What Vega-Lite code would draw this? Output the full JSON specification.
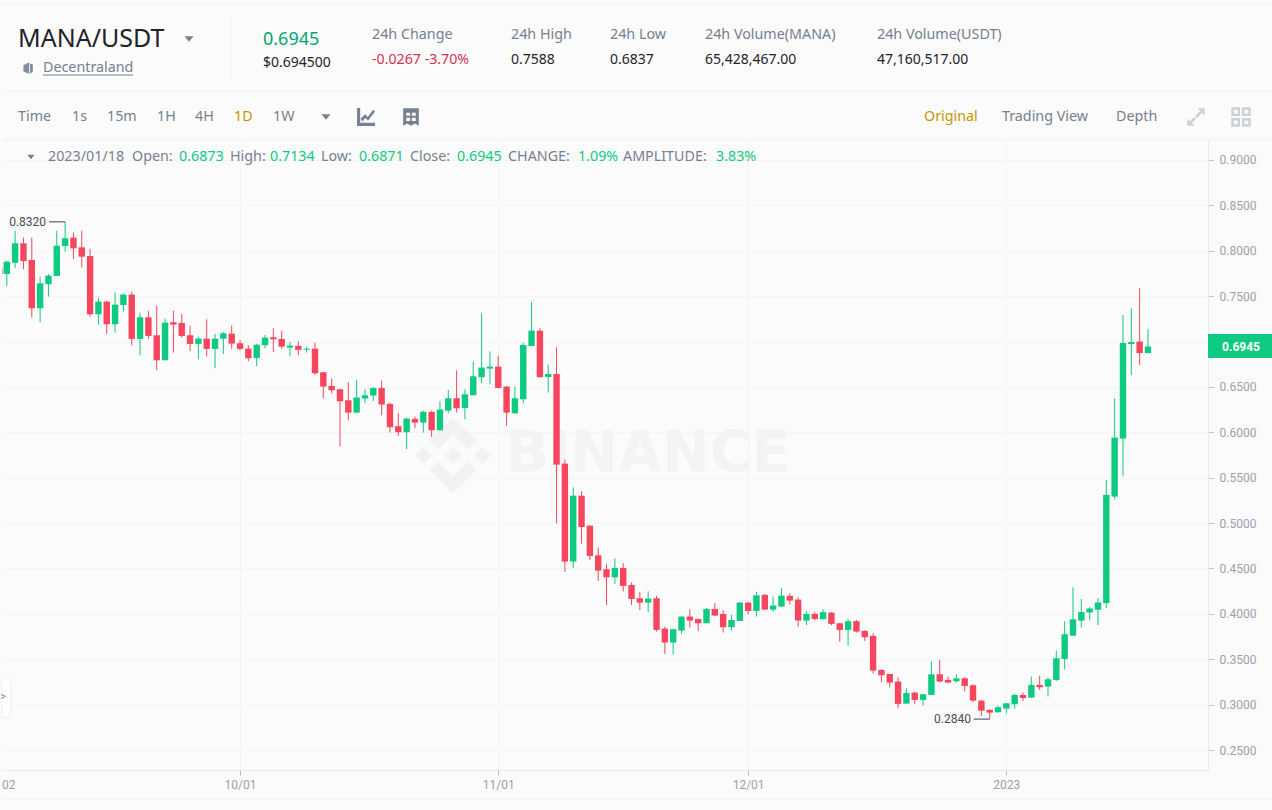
{"$schema":"https://vega.github.io/schema/vega-lite/v6.json","background":"#fbfbfb","padding":0,"autosize":{"type":"pad"},"spacing":0,"config":{"view":{"stroke":null},"font":"Noto Sans","concat":{"spacing":0}},
"datasets":{
"heads":[
{"text":"MANA/USDT","slot":1,"row":3,"style":"pair"},
{"text":"Decentraland","slot":3,"row":7,"style":"label"},
{"text":"0.6945","slot":12,"row":4,"style":"price"},
{"text":"$0.694500","slot":12,"row":6,"style":"value"},
{"text":"24h Change","slot":16,"row":2,"style":"label"},
{"text":"-0.0267 -3.70%","slot":16,"row":5,"style":"drop"},
{"text":"24h High","slot":18,"row":2,"style":"label"},
{"text":"0.7588","slot":18,"row":5,"style":"value"},
{"text":"24h Low","slot":19,"row":2,"style":"label"},
{"text":"0.6837","slot":19,"row":5,"style":"value"},
{"text":"24h Volume(MANA)","slot":20,"row":2,"style":"label"},
{"text":"65,428,467.00","slot":20,"row":5,"style":"value"},
{"text":"24h Volume(USDT)","slot":21,"row":2,"style":"label"},
{"text":"47,160,517.00","slot":21,"row":5,"style":"value"},
{"text":"Time","slot":1,"row":11,"style":"label"},
{"text":"1s","slot":4,"row":11,"style":"label"},
{"text":"15m","slot":5,"row":11,"style":"label"},
{"text":"1H","slot":7,"row":11,"style":"label"},
{"text":"4H","slot":9,"row":11,"style":"label"},
{"text":"1D","slot":11,"row":11,"style":"active"},
{"text":"1W","slot":13,"row":11,"style":"label"},
{"text":"Original","slot":22,"row":11,"style":"active"},
{"text":"Trading View","slot":23,"row":11,"style":"label"},
{"text":"Depth","slot":24,"row":11,"style":"label"}],
"candles":[
{"date":"2022-09-03","open":0.7744,"high":0.7891,"low":0.7612,"close":0.788},
{"date":"2022-09-04","open":0.7869,"high":0.8221,"low":0.781,"close":0.8082},
{"date":"2022-09-05","open":0.8082,"high":0.8144,"low":0.7796,"close":0.7887},
{"date":"2022-09-06","open":0.7898,"high":0.8144,"low":0.7264,"close":0.7366},
{"date":"2022-09-07","open":0.7366,"high":0.7715,"low":0.7212,"close":0.7642},
{"date":"2022-09-08","open":0.7631,"high":0.7744,"low":0.7495,"close":0.7726},
{"date":"2022-09-09","open":0.7722,"high":0.8221,"low":0.7722,"close":0.8056},
{"date":"2022-09-10","open":0.8052,"high":0.832,"low":0.799,"close":0.8137},
{"date":"2022-09-11","open":0.8144,"high":0.8203,"low":0.7909,"close":0.8027},
{"date":"2022-09-12","open":0.8038,"high":0.8221,"low":0.7818,"close":0.7935},
{"date":"2022-09-13","open":0.7942,"high":0.802,"low":0.7275,"close":0.73},
{"date":"2022-09-14","open":0.73,"high":0.7484,"low":0.7186,"close":0.744},
{"date":"2022-09-15","open":0.744,"high":0.7447,"low":0.7084,"close":0.719},
{"date":"2022-09-16","open":0.719,"high":0.7542,"low":0.7098,"close":0.7407},
{"date":"2022-09-17","open":0.7403,"high":0.7531,"low":0.733,"close":0.7517},
{"date":"2022-09-18","open":0.7517,"high":0.755,"low":0.6959,"close":0.7029},
{"date":"2022-09-19","open":0.7029,"high":0.7319,"low":0.6849,"close":0.7267},
{"date":"2022-09-20","open":0.7267,"high":0.7337,"low":0.7032,"close":0.7062},
{"date":"2022-09-21","open":0.7069,"high":0.7396,"low":0.6684,"close":0.6794},
{"date":"2022-09-22","open":0.6794,"high":0.7252,"low":0.6794,"close":0.7208},
{"date":"2022-09-23","open":0.7212,"high":0.7341,"low":0.6878,"close":0.7186},
{"date":"2022-09-24","open":0.7205,"high":0.7304,"low":0.7043,"close":0.7062},
{"date":"2022-09-25","open":0.7069,"high":0.7175,"low":0.6896,"close":0.6974},
{"date":"2022-09-26","open":0.6974,"high":0.7054,"low":0.6808,"close":0.7032},
{"date":"2022-09-27","open":0.7032,"high":0.7245,"low":0.6834,"close":0.6919},
{"date":"2022-09-28","open":0.6919,"high":0.7084,"low":0.6706,"close":0.7032},
{"date":"2022-09-29","open":0.7032,"high":0.7106,"low":0.6863,"close":0.7091},
{"date":"2022-09-30","open":0.7087,"high":0.7179,"low":0.6919,"close":0.6977},
{"date":"2022-10-01","open":0.6981,"high":0.7018,"low":0.69,"close":0.6919},
{"date":"2022-10-02","open":0.6922,"high":0.6959,"low":0.6783,"close":0.6816},
{"date":"2022-10-03","open":0.6819,"high":0.6977,"low":0.6731,"close":0.6966},
{"date":"2022-10-04","open":0.6959,"high":0.7073,"low":0.6926,"close":0.7043},
{"date":"2022-10-05","open":0.7047,"high":0.7146,"low":0.6886,"close":0.7025},
{"date":"2022-10-06","open":0.7029,"high":0.712,"low":0.6919,"close":0.6944},
{"date":"2022-10-07","open":0.6933,"high":0.6996,"low":0.6838,"close":0.6955},
{"date":"2022-10-08","open":0.6952,"high":0.7003,"low":0.6849,"close":0.6908},
{"date":"2022-10-09","open":0.6911,"high":0.6944,"low":0.6878,"close":0.6922},
{"date":"2022-10-10","open":0.6922,"high":0.6988,"low":0.6632,"close":0.6651},
{"date":"2022-10-11","open":0.6662,"high":0.6662,"low":0.6375,"close":0.6504},
{"date":"2022-10-12","open":0.6511,"high":0.6595,"low":0.643,"close":0.6463},
{"date":"2022-10-13","open":0.6474,"high":0.6482,"low":0.5843,"close":0.6342},
{"date":"2022-10-14","open":0.6353,"high":0.6551,"low":0.6133,"close":0.6217},
{"date":"2022-10-15","open":0.6217,"high":0.6577,"low":0.621,"close":0.6383},
{"date":"2022-10-16","open":0.6372,"high":0.6474,"low":0.632,"close":0.6408},
{"date":"2022-10-17","open":0.6405,"high":0.6496,"low":0.6346,"close":0.6489},
{"date":"2022-10-18","open":0.6489,"high":0.657,"low":0.6188,"close":0.6306},
{"date":"2022-10-19","open":0.6313,"high":0.6328,"low":0.5997,"close":0.6056},
{"date":"2022-10-20","open":0.6067,"high":0.621,"low":0.5961,"close":0.6001},
{"date":"2022-10-21","open":0.6001,"high":0.6162,"low":0.5814,"close":0.6151},
{"date":"2022-10-22","open":0.6148,"high":0.6173,"low":0.6045,"close":0.6107},
{"date":"2022-10-23","open":0.6107,"high":0.6239,"low":0.5997,"close":0.6225},
{"date":"2022-10-24","open":0.6225,"high":0.6239,"low":0.595,"close":0.6023},
{"date":"2022-10-25","open":0.6023,"high":0.6342,"low":0.6016,"close":0.625},
{"date":"2022-10-26","open":0.6239,"high":0.6467,"low":0.621,"close":0.6375},
{"date":"2022-10-27","open":0.6375,"high":0.6683,"low":0.6217,"close":0.6265},
{"date":"2022-10-28","open":0.6269,"high":0.6474,"low":0.6144,"close":0.6419},
{"date":"2022-10-29","open":0.6408,"high":0.6775,"low":0.6408,"close":0.6617},
{"date":"2022-10-30","open":0.6607,"high":0.7311,"low":0.654,"close":0.6713},
{"date":"2022-10-31","open":0.6702,"high":0.6893,"low":0.6529,"close":0.6724},
{"date":"2022-11-01","open":0.6724,"high":0.6845,"low":0.6485,"close":0.6489},
{"date":"2022-11-02","open":0.6504,"high":0.6511,"low":0.6071,"close":0.6217},
{"date":"2022-11-03","open":0.621,"high":0.6504,"low":0.6203,"close":0.6375},
{"date":"2022-11-04","open":0.6364,"high":0.6988,"low":0.632,"close":0.6962},
{"date":"2022-11-05","open":0.6951,"high":0.7436,"low":0.6951,"close":0.712},
{"date":"2022-11-06","open":0.712,"high":0.7146,"low":0.6603,"close":0.6607},
{"date":"2022-11-07","open":0.661,"high":0.6746,"low":0.6438,"close":0.6643},
{"date":"2022-11-08","open":0.6643,"high":0.6937,"low":0.4998,"close":0.5644},
{"date":"2022-11-09","open":0.5655,"high":0.5702,"low":0.4462,"close":0.4576},
{"date":"2022-11-10","open":0.4576,"high":0.5394,"low":0.4506,"close":0.5302},
{"date":"2022-11-11","open":0.5302,"high":0.535,"low":0.4774,"close":0.4957},
{"date":"2022-11-12","open":0.4972,"high":0.4972,"low":0.4594,"close":0.4638},
{"date":"2022-11-13","open":0.4645,"high":0.4733,"low":0.4363,"close":0.4476},
{"date":"2022-11-14","open":0.4491,"high":0.455,"low":0.4098,"close":0.4403},
{"date":"2022-11-15","open":0.4403,"high":0.4612,"low":0.433,"close":0.4506},
{"date":"2022-11-16","open":0.4506,"high":0.4557,"low":0.4245,"close":0.4308},
{"date":"2022-11-17","open":0.4319,"high":0.4344,"low":0.4098,"close":0.4164},
{"date":"2022-11-18","open":0.4172,"high":0.4242,"low":0.4043,"close":0.4124},
{"date":"2022-11-19","open":0.4124,"high":0.4249,"low":0.4018,"close":0.4168},
{"date":"2022-11-20","open":0.4172,"high":0.4198,"low":0.3805,"close":0.3823},
{"date":"2022-11-21","open":0.3838,"high":0.386,"low":0.3559,"close":0.3684},
{"date":"2022-11-22","open":0.3684,"high":0.3834,"low":0.3552,"close":0.3831},
{"date":"2022-11-23","open":0.3816,"high":0.3977,"low":0.3779,"close":0.397},
{"date":"2022-11-24","open":0.397,"high":0.4051,"low":0.3849,"close":0.3926},
{"date":"2022-11-25","open":0.3944,"high":0.3944,"low":0.3812,"close":0.3897},
{"date":"2022-11-26","open":0.3897,"high":0.4065,"low":0.3897,"close":0.4054},
{"date":"2022-11-27","open":0.4054,"high":0.4117,"low":0.3977,"close":0.3981},
{"date":"2022-11-28","open":0.3999,"high":0.404,"low":0.3794,"close":0.3853},
{"date":"2022-11-29","open":0.3853,"high":0.3988,"low":0.3816,"close":0.3933},
{"date":"2022-11-30","open":0.3922,"high":0.4128,"low":0.3922,"close":0.4124},
{"date":"2022-12-01","open":0.4124,"high":0.4131,"low":0.3992,"close":0.4032},
{"date":"2022-12-02","open":0.4032,"high":0.4242,"low":0.397,"close":0.4205},
{"date":"2022-12-03","open":0.4209,"high":0.422,"low":0.4043,"close":0.4047},
{"date":"2022-12-04","open":0.4047,"high":0.419,"low":0.4025,"close":0.4091},
{"date":"2022-12-05","open":0.408,"high":0.4282,"low":0.408,"close":0.4201},
{"date":"2022-12-06","open":0.4198,"high":0.4227,"low":0.4102,"close":0.4146},
{"date":"2022-12-07","open":0.4157,"high":0.4183,"low":0.386,"close":0.3926},
{"date":"2022-12-08","open":0.3926,"high":0.4029,"low":0.3878,"close":0.3999},
{"date":"2022-12-09","open":0.3999,"high":0.4018,"low":0.3926,"close":0.3944},
{"date":"2022-12-10","open":0.3941,"high":0.4051,"low":0.3941,"close":0.4018},
{"date":"2022-12-11","open":0.4014,"high":0.4018,"low":0.3875,"close":0.3889},
{"date":"2022-12-12","open":0.3897,"high":0.3897,"low":0.3695,"close":0.3823},
{"date":"2022-12-13","open":0.3823,"high":0.3941,"low":0.3647,"close":0.3919},
{"date":"2022-12-14","open":0.3919,"high":0.3933,"low":0.3794,"close":0.3805},
{"date":"2022-12-15","open":0.3812,"high":0.3819,"low":0.3702,"close":0.3743},
{"date":"2022-12-16","open":0.3757,"high":0.3786,"low":0.3342,"close":0.3375},
{"date":"2022-12-17","open":0.3382,"high":0.3393,"low":0.3246,"close":0.3323},
{"date":"2022-12-18","open":0.3338,"high":0.3338,"low":0.3191,"close":0.3243},
{"date":"2022-12-19","open":0.3254,"high":0.3301,"low":0.296,"close":0.3008},
{"date":"2022-12-20","open":0.3011,"high":0.318,"low":0.3011,"close":0.3129},
{"date":"2022-12-21","open":0.3133,"high":0.3144,"low":0.3008,"close":0.3052},
{"date":"2022-12-22","open":0.3052,"high":0.3118,"low":0.2989,"close":0.3114},
{"date":"2022-12-23","open":0.3107,"high":0.3481,"low":0.3107,"close":0.3334},
{"date":"2022-12-24","open":0.3334,"high":0.3492,"low":0.3246,"close":0.3254},
{"date":"2022-12-25","open":0.3272,"high":0.3309,"low":0.3235,"close":0.3243},
{"date":"2022-12-26","open":0.3257,"high":0.3334,"low":0.3243,"close":0.329},
{"date":"2022-12-27","open":0.329,"high":0.3301,"low":0.3144,"close":0.3206},
{"date":"2022-12-28","open":0.3213,"high":0.3224,"low":0.3026,"close":0.3044},
{"date":"2022-12-29","open":0.3044,"high":0.3052,"low":0.2876,"close":0.2934},
{"date":"2022-12-30","open":0.2942,"high":0.2949,"low":0.284,"close":0.2912},
{"date":"2022-12-31","open":0.2916,"high":0.2989,"low":0.2912,"close":0.2971},
{"date":"2023-01-01","open":0.2956,"high":0.3019,"low":0.2905,"close":0.3015},
{"date":"2023-01-02","open":0.3004,"high":0.3118,"low":0.2956,"close":0.3107},
{"date":"2023-01-03","open":0.3107,"high":0.3133,"low":0.3041,"close":0.3074},
{"date":"2023-01-04","open":0.3077,"high":0.3309,"low":0.3077,"close":0.3217},
{"date":"2023-01-05","open":0.3217,"high":0.332,"low":0.3162,"close":0.3191},
{"date":"2023-01-06","open":0.3199,"high":0.3301,"low":0.3089,"close":0.3279},
{"date":"2023-01-07","open":0.3272,"high":0.3595,"low":0.3261,"close":0.3511},
{"date":"2023-01-08","open":0.3503,"high":0.3918,"low":0.3389,"close":0.3775},
{"date":"2023-01-09","open":0.376,"high":0.4292,"low":0.3756,"close":0.394},
{"date":"2023-01-10","open":0.3925,"high":0.4162,"low":0.385,"close":0.4021},
{"date":"2023-01-11","open":0.4015,"high":0.4074,"low":0.393,"close":0.4059},
{"date":"2023-01-12","open":0.4045,"high":0.4173,"low":0.3877,"close":0.4125},
{"date":"2023-01-13","open":0.4118,"high":0.5476,"low":0.4063,"close":0.5311},
{"date":"2023-01-14","open":0.5292,"high":0.6375,"low":0.5263,"close":0.5942},
{"date":"2023-01-15","open":0.5931,"high":0.7293,"low":0.5513,"close":0.6984},
{"date":"2023-01-16","open":0.6973,"high":0.7366,"low":0.6632,"close":0.6995},
{"date":"2023-01-17","open":0.7,"high":0.7588,"low":0.6738,"close":0.6873},
{"date":"2023-01-18","open":0.6873,"high":0.7134,"low":0.6871,"close":0.6945}
]},
"vconcat":[
{"width":1271,"height":140,
"encoding":{
"x":{"field":"slot","type":"quantitative","axis":null,"scale":{"zero":false,"nice":false,"domain":[0,1,2,3,4,5,6,7,8,9,10,11,12,13,14,15,16,17,18,19,20,21,22,23,24,25,26,27],"range":[0,16,26,41,70,105,131,155,187,193,229,232,261,271,324,364,370,409,509,608,703,875,922,1000,1114,1194,1239,1271]}},
"y":{"field":"row","type":"quantitative","axis":null,"scale":{"zero":false,"nice":false,"domain":[0,1,2,3,4,5,6,7,8,9,10,11,12],"range":[4,18,35,39,40,60,62.5,68,75,78,91,117,139.5]}}
},
"layer":[
{"data":{"values":[{"slot":0,"slot2":27,"row":0},{"slot":0,"slot2":27,"row":10},{"slot":0,"slot2":27,"row":12}]},
"mark":{"type":"rule","color":"#eef0f2","strokeWidth":1},"encoding":{"x2":{"field":"slot2"}}},
{"data":{"values":[{"slot":3,"slot2":6,"row":8}]},"mark":{"type":"rule","color":"#76808f","strokeWidth":1},"encoding":{"x2":{"field":"slot2"}}},
{"data":{"values":[{"slot":10,"row":1,"row2":9}]},"mark":{"type":"rule","color":"#eef0f2","strokeWidth":1},"encoding":{"y2":{"field":"row2"}}},
{"data":{"values":[{"slot":8,"row":3},{"slot":14,"row":11}]},"mark":{"type":"point","filled":true,"opacity":1,"strokeWidth":0,"color":"#76808f","size":100,"shape":"M-.9 -.55 H.9 L0 .55Z"}},
{"data":{"values":[{"slot":2,"row":7}]},"mark":{"type":"point","filled":true,"opacity":1,"strokeWidth":0,"color":"#848e9c","size":130,"shape":"M-.8 -.5 L.2 -1 V1 L-.8 .6Z M.35 -.8 L.85 -.6 V.7 L.35 1Z"}},
{"data":{"values":[{"slot":15,"row":11}]},"mark":{"type":"point","filled":true,"opacity":1,"strokeWidth":0,"color":"#76808f","size":320,"shape":"M-1 -1 H-.65 V.65 H1 V1 H-1Z M-.6 .2 L-.1 -.3 L.2 0 L.8 -.8 L1 -.6 L.25 .4 L-.1 .1 L-.4 .5Z"}},
{"data":{"values":[{"slot":17,"row":11}]},"mark":{"type":"point","filled":true,"opacity":1,"strokeWidth":0,"color":"#76808f","size":300,"shape":"M-.9 -1 H.9 V1 L.45 .75 L0 1 L-.45 .75 L-.9 1Z M-.55 -.5 V-.15 H-.1 V-.5Z M.1 -.5 V-.15 H.55 V-.5Z M-.55 .1 V.45 H-.1 V.1Z M.1 .1 V.45 H.55 V.1Z"}},
{"data":{"values":[{"slot":25,"row":11}]},"mark":{"type":"point","filled":true,"opacity":1,"strokeWidth":0,"color":"#cdd1d6","size":340,"shape":"M.15 -.95 H.95 V-.15 L.65 -.45 L.1 .1 L-.1 -.1 L.45 -.65Z M-.95 .95 V.15 L-.65 .45 L-.2 0 L0 .2 L-.45 .65 L-.15 .95Z"}},
{"data":{"values":[{"slot":26,"row":11}]},"mark":{"type":"point","filled":true,"opacity":1,"strokeWidth":0,"color":"#cdd1d6","size":380,"shape":"M-1 -1 H-.1 V-.1 H-1Z M-.75 -.75 V-.35 H-.35 V-.75Z M.1 -1 H1 V-.1 H.1Z M.35 -.75 V-.35 H.75 V-.75Z M-1 .1 H-.1 V1 H-1Z M-.75 .35 V.75 H-.35 V.35Z M.1 .1 H1 V1 H.1Z M.35 .35 V.75 H.75 V.35Z"}},
{"data":{"name":"heads"},"transform":[{"filter":"datum.style=='pair'"}],"mark":{"type":"text","align":"left","baseline":"middle","fontSize":25,"color":"#1e2329"},"encoding":{"text":{"field":"text"}}},
{"data":{"name":"heads"},"transform":[{"filter":"datum.style=='price'"}],"mark":{"type":"text","align":"left","baseline":"middle","fontSize":18,"color":"#02a66f"},"encoding":{"text":{"field":"text"}}},
{"data":{"name":"heads"},"transform":[{"filter":"datum.style=='value'"}],"mark":{"type":"text","align":"left","baseline":"middle","fontSize":14,"color":"#1e2329"},"encoding":{"text":{"field":"text"}}},
{"data":{"name":"heads"},"transform":[{"filter":"datum.style=='drop'"}],"mark":{"type":"text","align":"left","baseline":"middle","fontSize":14.2,"color":"#d9304e"},"encoding":{"text":{"field":"text"}}},
{"data":{"name":"heads"},"transform":[{"filter":"datum.style=='label'"}],"mark":{"type":"text","align":"left","baseline":"middle","fontSize":14.3,"color":"#76808f"},"encoding":{"text":{"field":"text"}}},
{"data":{"name":"heads"},"transform":[{"filter":"datum.style=='active'"}],"mark":{"type":"text","align":"left","baseline":"middle","fontSize":14.3,"color":"#c99400"},"encoding":{"text":{"field":"text"}}}
]},
{"width":1206,"height":630,
"resolve":{"scale":{"x":"independent","y":"independent"}},
"layer":[
{"encoding":{"x":{"field":"date","type":"temporal","title":null,"scale":{"type":"utc","nice":false,"padding":0,"domain":[1662113376000,1674622800000]},
"axis":{"title":null,"values":[1664582400000,1667260800000,1669852800000,1672531200000],"labelExpr":"utcFormat(datum.value,'%m/%d')=='01/01'?'2023':utcFormat(datum.value,'%m/%d')","grid":true,"gridColor":"#f4f4f5","domainColor":"#e8eaed","tickColor":"#b7bdc6","tickSize":5,"labelColor":"#9aa1ab","labelFontSize":12,"labelPadding":4,"labelFont":"Roboto"}}},
"layer":[
{"data":{"values":[{"date":"2022-10-26T13:30:00Z","price":0.5745}]},
"mark":{"type":"point","filled":true,"opacity":1,"strokeWidth":0,"color":"#f2f2f2","size":5776,"shape":"M-.388 -.16 L0 -.548 L.388 -.16 L.614 -.386 L0 -1 L-.614 -.386Z M-.388 .16 L0 .548 L.388 .16 L.614 .386 L0 1 L-.614 .386Z M-1 0 L-.774 -.226 L-.548 0 L-.774 .226Z M1 0 L.774 -.226 L.548 0 L.774 .226Z M.229 0 L0 -.229 L-.229 0 L0 .229Z"},
"encoding":{"y":{"field":"price","type":"quantitative","title":null,"scale":{"nice":false,"zero":false,"domain":[0.22798,0.92203]},
"axis":{"title":null,"orient":"right","values":[0.25,0.3,0.35,0.4,0.45,0.5,0.55,0.6,0.65,0.7,0.75,0.8,0.85,0.9],"labelExpr":"abs(datum.value-0.7)<0.001?'':format(datum.value,'.4f')","grid":true,"gridColor":"#f4f4f5","domainColor":"#e8eaed","tickColor":"#b7bdc6","tickSize":5,"labelColor":"#9aa1ab","labelFontSize":12,"labelPadding":6,"labelFont":"Roboto"}}}},
{"data":{"values":[{"date":"2022-11-18T23:30:00Z","price":0.5745,"label":"BINANCE"}]},
"mark":{"type":"text","fontSize":57,"fontWeight":"bold","font":"DejaVu Sans","color":"#f3f3f3","baseline":"middle"},
"encoding":{"y":{"field":"price","type":"quantitative","title":null},"text":{"field":"label"}}},
{"data":{"values":[{"date":"2022-09-02T10:10:00Z","end":"2022-09-02T11:30:00Z","price":0.7807,"price2":0.7744}]},
"mark":{"type":"rect","color":"#f6465d"},
"encoding":{"x2":{"field":"end"},"y":{"field":"price","type":"quantitative","title":null},"y2":{"field":"price2"}}},
{"data":{"name":"candles"},"mark":{"type":"rule","strokeWidth":1},
"encoding":{"y":{"field":"low","type":"quantitative","title":null},"y2":{"field":"high"},"color":{"condition":{"test":"datum.close>=datum.open","value":"#0ecb81"},"value":"#f6465d"}}},
{"data":{"name":"candles"},"mark":{"type":"bar","size":6.4},
"encoding":{"y":{"field":"open","type":"quantitative","title":null},"y2":{"field":"close"},"color":{"condition":{"test":"datum.close>=datum.open","value":"#0ecb81"},"value":"#f6465d"}}},
{"data":{"values":[{"date":"2022-09-08T02:00:00Z","end":"2022-09-10T00:00:00Z","price":0.832},{"date":"2022-12-28T02:00:00Z","end":"2022-12-30T00:00:00Z","price":0.284}]},
"mark":{"type":"rule","color":"#76808f","strokeWidth":1.5},
"encoding":{"x2":{"field":"end"},"y":{"field":"price","type":"quantitative","title":null}}},
{"data":{"values":[{"date":"2022-09-07T17:00:00Z","price":0.832,"label":"0.8320"},{"date":"2022-12-27T18:00:00Z","price":0.284,"label":"0.2840"}]},
"mark":{"type":"text","align":"right","baseline":"middle","fontSize":12,"font":"Roboto","color":"#474d57"},
"encoding":{"y":{"field":"price","type":"quantitative","title":null},"text":{"field":"label"}}},
{"data":{"values":[{"date":"2023-01-25T05:00:00Z","end":"2023-02-02T00:00:00Z","price":0.7083,"price2":0.6819}]},
"mark":{"type":"rect","color":"#0ecb81"},
"encoding":{"x2":{"field":"end"},"y":{"field":"price","type":"quantitative","title":null},"y2":{"field":"price2"}}},
{"data":{"values":[{"date":"2023-01-29T04:00:00Z","price":0.6945,"label":"0.6945"}]},
"mark":{"type":"text","fontSize":12,"fontWeight":"bold","font":"Roboto","color":"#ffffff","baseline":"middle"},
"encoding":{"y":{"field":"price","type":"quantitative","title":null},"text":{"field":"label"}}},
{"data":{"values":[{"date":"2022-09-02T10:10:00Z","end":"2022-09-03T10:37:00Z","price":0.3288,"price2":0.2858}]},
"mark":{"type":"rect","fill":"#ffffff","stroke":"#eeeff1","strokeWidth":1,"cornerRadius":3},
"encoding":{"x2":{"field":"end"},"y":{"field":"price","type":"quantitative","title":null},"y2":{"field":"price2"}}},
{"data":{"values":[{"date":"2022-09-02T13:03:00Z","price":0.3084,"label":">"}]},
"mark":{"type":"text","fontSize":10,"font":"Roboto","color":"#76808f","baseline":"middle"},
"encoding":{"y":{"field":"price","type":"quantitative","title":null},"text":{"field":"label"}}},
{"data":{"values":[{"date":"2022-09-02T10:10:00Z","price":0.2114,"label":"02"}]},
"mark":{"type":"text","align":"left","baseline":"middle","fontSize":12,"font":"Roboto","color":"#9aa1ab"},
"encoding":{"y":{"field":"price","type":"quantitative","title":null},"text":{"field":"label"}}},
{"data":{"values":[{"date":"2022-09-02T10:10:00Z","end":"2023-02-02T00:00:00Z","price":0.196}]},
"mark":{"type":"rule","strokeWidth":1,"color":"#f0f1f2"},
"encoding":{"x2":{"field":"end"},"y":{"field":"price","type":"quantitative","title":null}}},
{"data":{"values":[{"date":"2022-09-02T10:10:00Z","end":"2023-02-02T00:00:00Z","price":0.1855}]},
"mark":{"type":"rule","strokeWidth":1,"color":"#fbfbfb"},
"encoding":{"x2":{"field":"end"},"y":{"field":"price","type":"quantitative","title":null}}}
]},
{"encoding":{
"x":{"field":"slot","type":"quantitative","axis":null,"scale":{"zero":false,"nice":false,"domain":[0,1,2,3,4,5,6,7,8,9,10,11,12,13],"range":[29,46,130,177,228,268,319,357,408,455,506,576,621,714]}},
"y":{"field":"line","type":"quantitative","axis":null,"scale":{"zero":false,"nice":false,"domain":[0,1],"range":[17,18]}}},
"layer":[
{"data":{"values":[{"slot":0,"line":0}]},"mark":{"type":"point","filled":true,"opacity":1,"strokeWidth":0,"color":"#76808f","size":64,"shape":"M-.9 -.55 H.9 L0 .55Z"}},
{"data":{"values":[
{"text":"2023/01/18","slot":1,"line":0,"kind":"key"},{"text":"Open:","slot":2,"line":0,"kind":"key"},{"text":"0.6873","slot":3,"line":0,"kind":"val"},
{"text":"High:","slot":4,"line":0,"kind":"key"},{"text":"0.7134","slot":5,"line":0,"kind":"val"},
{"text":"Low:","slot":6,"line":0,"kind":"key"},{"text":"0.6871","slot":7,"line":0,"kind":"val"},
{"text":"Close:","slot":8,"line":0,"kind":"key"},{"text":"0.6945","slot":9,"line":0,"kind":"val"},
{"text":"CHANGE:","slot":10,"line":0,"kind":"key"},{"text":"1.09%","slot":11,"line":0,"kind":"val"},
{"text":"AMPLITUDE:","slot":12,"line":0,"kind":"key"},{"text":"3.83%","slot":13,"line":0,"kind":"val"}]},
"mark":{"type":"text","align":"left","baseline":"middle","fontSize":14.3},
"encoding":{"text":{"field":"text"},"color":{"condition":{"test":"datum.kind=='val'","value":"#0ecb81"},"value":"#76808f"}}}
]}
]}
]}
